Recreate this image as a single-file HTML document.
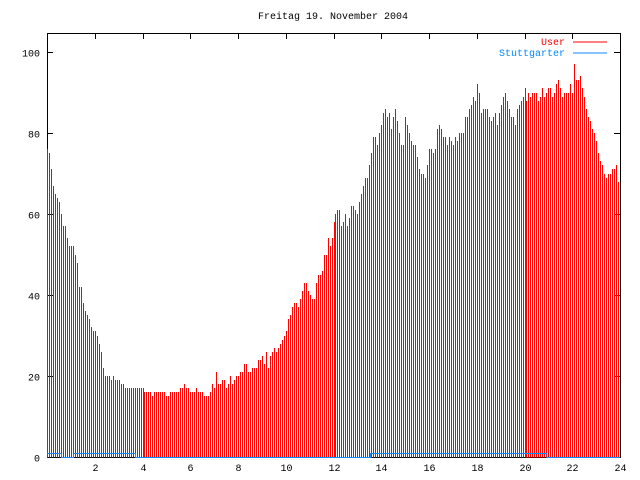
<!DOCTYPE html>
<html><head><meta charset="utf-8"><style>
body{margin:0;background:#fff}
svg{display:block}
text{font-family:"Liberation Mono","DejaVu Sans Mono",monospace;font-size:10px}
</style></head><body>
<svg id="chart" width="640" height="480" xmlns="http://www.w3.org/2000/svg" shape-rendering="crispEdges">
<rect width="640" height="480" fill="#fff"/>
<text x="333" y="19" text-anchor="middle">Freitag 19. November 2004</text>
<g id="bars"></g>
<g id="axes"></g>
<g>
<text x="565" y="45" text-anchor="end" fill="#f00">User</text>
<line x1="573" y1="42" x2="607" y2="42" stroke="#f00" stroke-width="1.2"/>
<text x="565" y="56" text-anchor="end" fill="#08f">Stuttgarter</text>
<line x1="573" y1="53" x2="607" y2="53" stroke="#18f" stroke-width="1"/>
</g>
</svg>
<script>
const values = [
76,75,71,67,65,64,63,60,57,57,54,52,
52,52,50,48,42,42,38,36,35,34,32,31,
31,30,28,26,22,20,20,20,19,20,19,19,
19,18,18,17,17,17,17,17,17,17,17,17,
17,16,16,16,16,15,16,16,16,16,16,16,
15,15,16,16,16,16,16,17,17,18,17,17,
16,16,16,17,16,16,16,15,15,15,16,18,
17,21,18,18,19,19,17,18,20,18,19,20,
20,21,21,23,23,21,21,22,22,22,24,24,
25,23,26,22,25,26,27,26,27,28,29,30,
31,34,35,37,38,38,37,39,41,43,43,41,
40,39,39,43,45,45,46,50,50,54,52,54,
58,60,61,61,57,58,60,57,59,62,62,61,
60,63,65,67,69,69,72,75,79,79,77,80,
82,85,86,84,85,81,84,86,83,80,77,77,
84,82,80,78,77,77,74,71,70,70,69,72,
76,76,75,76,81,82,81,79,79,77,79,78,
77,79,78,80,80,80,84,84,86,87,89,88,
92,90,85,86,86,86,84,83,84,85,82,85,
87,89,90,88,86,84,84,82,86,87,88,89,
91,88,90,89,90,90,90,88,89,91,89,90,
91,91,89,90,92,93,91,89,90,90,90,92,
90,97,93,93,94,91,89,86,84,83,81,80,
78,75,73,72,70,69,70,70,71,71,72,68];
const stuttHours = [0,0.6,1.1,3.7,13.55,20.95,24];
const stuttValues = [1,0,1,0,1,0,0];
const xTicks = [2,4,6,8,10,12,14,16,18,20,22,24];
const yTicks = [0,20,40,60,80,100];
const X0=47,X1=620,Y0=457,Y1=33,XMAX=24,YMAX=104.7;
const xs=h=>X0+(X1-X0)*h/XMAX;
const ys=v=>Y0-(Y0-Y1)*v/YMAX;
const NS="http://www.w3.org/2000/svg";
function mk(t,a,p){const e=document.createElementNS(NS,t);for(const k in a)e.setAttribute(k,a[k]);p.appendChild(e);return e;}
const ax=document.getElementById('axes');
const box=mk('rect',{x:X0+0.5,y:Y1+0.5,width:X1-X0,height:Y0-Y1,fill:'none',stroke:'#000'},ax);


yTicks.forEach(v=>{
  const y=Math.round(ys(v))+0.5;
  mk('line',{x1:X0,x2:X0+6,y1:y,y2:y,stroke:'#000'},ax);
  mk('line',{x1:X1-6,x2:X1,y1:y,y2:y,stroke:'#000'},ax);
  const t=mk('text',{x:X0-7,y:y+4,'text-anchor':'end'},ax);
  t.textContent=v;
  
  
});
xTicks.forEach(v=>{
  const x=Math.round(xs(v))+0.5;
  mk('line',{x1:x,x2:x,y1:Y0,y2:Y0-6,stroke:'#000'},ax);
  mk('line',{x1:x,x2:x,y1:Y1,y2:Y1+6,stroke:'#000'},ax);
  const t=mk('text',{x:x,y:471,'text-anchor':'middle'},ax);
  t.textContent=v;
  
  
});
const bars=document.getElementById('bars');
document.getElementById('chart').appendChild(bars);
values.forEach((v,i)=>{
  const h=i*XMAX/values.length;
  const x=Math.round(xs(h))+0.5;
  const l=mk('line',{x1:x,x2:x,y1:Y0+0.5,y2:Math.round(ys(v)),stroke:'#f00','stroke-width':1},bars);
  
  
});
let pts=[];
for(let i=0;i<stuttHours.length-1;i++){
  const y=Math.round(ys(stuttValues[i]))+0.5;
  pts.push(xs(stuttHours[i])+','+y, xs(stuttHours[i+1])+','+y);
}
const sl=mk('polyline',{points:pts.join(' '),fill:'none',stroke:'#18f','stroke-width':1},bars);


</script>
</body></html>
